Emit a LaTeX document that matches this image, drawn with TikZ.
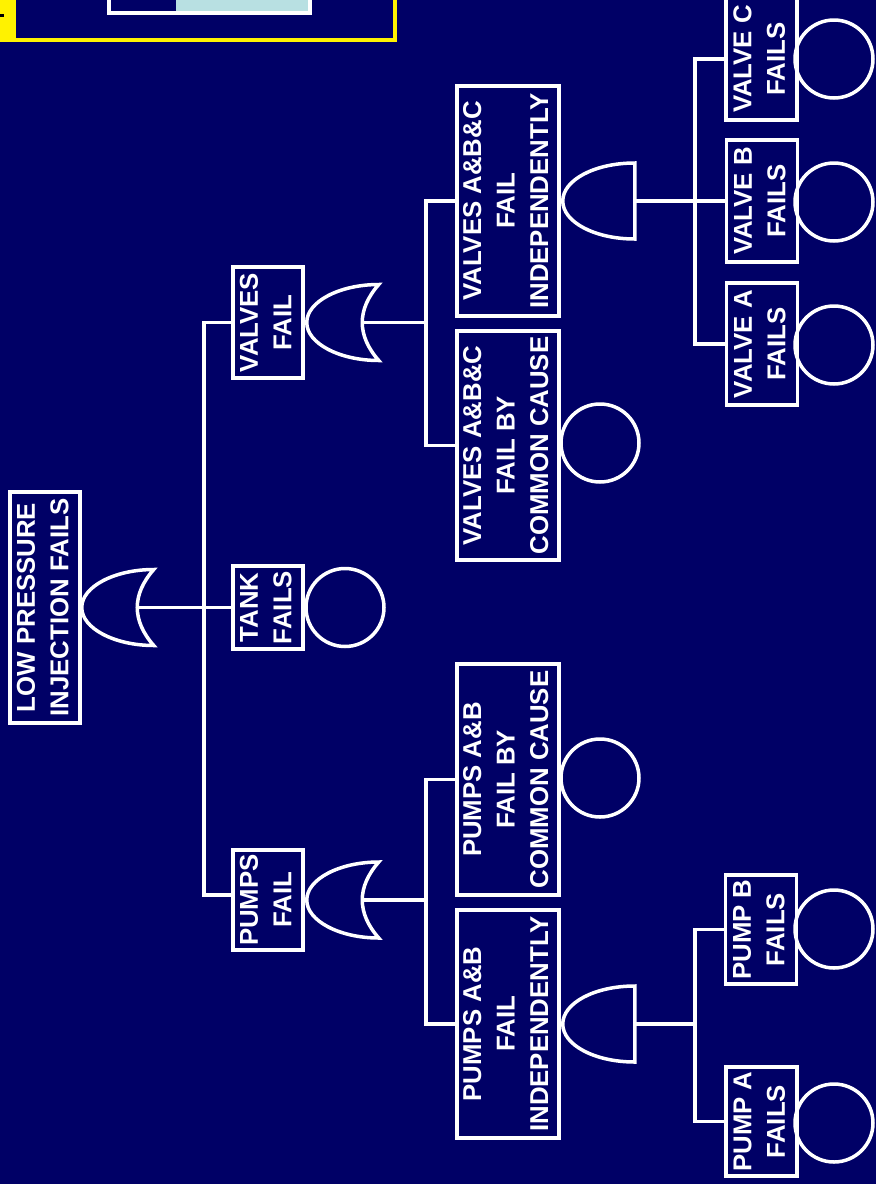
\documentclass[tikz,border=0pt]{standalone}
\usepackage{fontspec}
\setmainfont{Liberation Sans}
\usepackage{graphicx}
\definecolor{navy}{RGB}{0,0,102}
\definecolor{paleCyan}{RGB}{184,224,226}
\newcommand{\vtext}[1]{\rotatebox{90}{\begin{tabular}{@{}c@{}}#1\end{tabular}}}
\begin{document}
\begin{tikzpicture}[x=1pt,y=-1pt,
  box/.style={draw=white, line width=3.5pt, inner sep=0pt, text=white,
    font=\fontsize{25.8}{33.5}\selectfont\bfseries},
  evt/.style={draw=white, line width=3.5pt, circle, inner sep=0pt, minimum size=78pt},
  wire/.style={draw=white, line width=3.5pt},
  orgate/.pic={
    \draw[white, line width=3.5pt] (0,0) .. controls (0,-21) and (33,-38) .. (72,-38)
      .. controls (50,-13) and (50,13) .. (72,38)
      .. controls (33,38) and (0,21) .. (0,0);
    \coordinate (-in) at (55.5,0);
  },
  andgate/.pic={
    \draw[white, line width=3.5pt] (0,0) .. controls (0,-21) and (32,-38) .. (72,-38)
      -- (72,38) .. controls (32,38) and (0,21) .. (0,0);
    \coordinate (-in) at (72,0);
  }
]
\useasboundingbox (0,0) rectangle (876,1184);
\fill[navy] (0,0) rectangle (876,1184);

% cropped frame at top left
\fill[yellow] (0,-10) rectangle (397,42);
\fill[navy] (16,-10) rectangle (393,38);
\fill[black] (0,14) rectangle (4,17);
\fill[white] (107,-10) rectangle (312,15);
\fill[navy] (111,-10) rectangle (176,11);
\fill[paleCyan] (176,-10) rectangle (308,11);

% boxes
\node[box, minimum width=70pt, minimum height=231pt] (top) at (45,607.5) {\vtext{LOW PRESSURE\\INJECTION FAILS}};
\node[box, minimum width=70pt, minimum height=83pt] (tank) at (268,607.5) {\vtext{TANK\\FAILS}};
\node[box, minimum width=70pt, minimum height=111pt] (valvesfail) at (268,322.5) {\vtext{VALVES\\FAIL}};
\node[box, minimum width=70pt, minimum height=100pt] (pumpsfail) at (268,900) {\vtext{PUMPS\\FAIL}};
\node[box, minimum width=102pt, minimum height=229pt] (vcc) at (508,445.5) {\vtext{VALVES A\&B\&C\\FAIL BY\\COMMON CAUSE}};
\node[box, minimum width=102pt, minimum height=230pt] (vind) at (508,201) {\vtext{VALVES A\&B\&C\\FAIL\\INDEPENDENTLY}};
\node[box, minimum width=102pt, minimum height=231pt] (pcc) at (508,779.5) {\vtext{PUMPS A\&B\\FAIL BY\\COMMON CAUSE}};
\node[box, minimum width=102pt, minimum height=228pt] (pind) at (508,1024) {\vtext{PUMPS A\&B\\FAIL\\INDEPENDENTLY}};
\node[box, minimum width=71pt, minimum height=122pt] (valveC) at (761.5,59) {\vtext{VALVE C\\FAILS}};
\node[box, minimum width=71pt, minimum height=122pt] (valveB) at (762,201) {\vtext{VALVE B\\FAILS}};
\node[box, minimum width=71pt, minimum height=122pt] (valveA) at (762,344) {\vtext{VALVE A\\FAILS}};
\node[box, minimum width=71pt, minimum height=109pt] (pumpB) at (761,929.5) {\vtext{PUMP B\\FAILS}};
\node[box, minimum width=71pt, minimum height=109pt] (pumpA) at (761.5,1121.5) {\vtext{PUMP A\\FAILS}};

% basic events
\node[evt] (tankE) at (345,607.5) {};
\node[evt] (vccE) at (600,443) {};
\node[evt] (pccE) at (600,778) {};
\node[evt] (valveCE) at (834,59) {};
\node[evt] (valveBE) at (834,202) {};
\node[evt] (valveAE) at (834,345) {};
\node[evt] (pumpBE) at (834,929) {};
\node[evt] (pumpAE) at (834,1123) {};

% gates
\pic (G0) at (top.east) {orgate};
\pic (G1) at ([xshift=2pt]valvesfail.east) {orgate};
\pic (G2) at ([xshift=2pt]pumpsfail.east) {orgate};
\pic (G3) at ([xshift=2pt]vind.east) {andgate};
\pic (G4) at ([xshift=2pt]pind.east) {andgate};

% junctions
\coordinate (J0) at (204,607.5);
\coordinate (J1) at (426,322.5);
\coordinate (J2) at (426,900);
\coordinate (J3) at (695,201);
\coordinate (J4) at (695,1024);

% connectors
\draw[wire] (G0-in) -- (tank.west);
\draw[wire] (valvesfail.west) -| (J0) |- ([yshift=5pt]pumpsfail.west);
\draw[wire] (G1-in) -- (J1);
\draw[wire] (vind.west) -| (J1) |- (vcc.west);
\draw[wire] (G2-in) -- (J2);
\draw[wire] (pcc.west) -| (J2) |- (pind.west);
\draw[wire] (G3-in) -- (valveB.west);
\draw[wire] (valveC.west) -| (J3) |- (valveA.west);
\draw[wire] (G4-in) -- (J4);
\draw[wire] (pumpB.west) -| (J4) |- (pumpA.west);
\end{tikzpicture}
\end{document}
